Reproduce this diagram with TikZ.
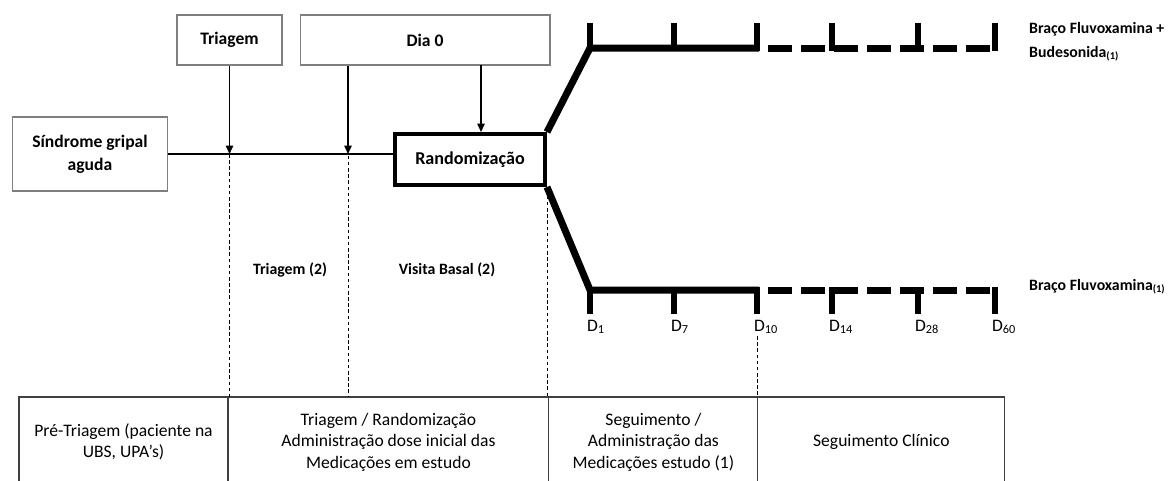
\documentclass[tikz,border=0pt]{standalone}
\usepackage{fontspec}
\setmainfont{Carlito}
\usetikzlibrary{arrows.meta, positioning, calc}

\begin{document}
\begin{tikzpicture}[
    x=0.02cm, y=-0.02cm,
    >={Triangle[length=0.17cm, width=0.15cm]},
    font=\fontsize{10}{12}\selectfont
]

\definecolor{boxgray}{HTML}{7F7F7F}
\definecolor{celledge}{HTML}{404040}

\tikzset{
    thinbox/.style={
        rectangle,
        draw=boxgray,
        line width=0.6pt,
        minimum height=1.0cm,
        align=center,
        font=\fontsize{10}{13}\selectfont\bfseries
    },
    randbox/.style={
        rectangle,
        draw=black,
        line width=0.08cm,
        minimum width=3.0cm,
        minimum height=1.02cm,
        font=\fontsize{10.3}{12}\selectfont\bfseries
    },
    arm/.style={line width=0.14cm, line join=miter},
    armdash/.style={arm, dash pattern=on 0.48cm off 0.18cm, dash phase=0.48cm},
    tickmark/.style={line width=0.13cm},
    guide/.style={dash pattern=on 2pt off 1.5pt, line width=0.5pt},
    arr/.style={->, line width=0.03cm},
    cell/.style={
        rectangle,
        draw=celledge,
        line width=0.6pt,
        minimum height=1.8cm,
        align=center,
        outer sep=0pt,
        font=\fontsize{10}{12.2}\selectfont
    },
    lbl/.style={font=\fontsize{9}{13.5}\selectfont\bfseries, align=left}
}

\useasboundingbox (0,0) rectangle (1168,480);

% Nodes
\node[thinbox, minimum width=2.1cm] (tri) at (229.5,40) {Triagem};
\node[thinbox, minimum width=5cm] (dia) at (425,40) {Dia 0};
\node[thinbox, minimum width=3.1cm, minimum height=1.48cm] (sga) at (90,154) {Síndrome gripal\\aguda};
\node[randbox] (rand) at (470,159.5) {Randomização};

% Timeline
\draw[line width=0.04cm] (sga.east) -- (sga.east -| rand.west);
\coordinate (tmark) at (tri.south |- sga.east);
\coordinate (dmark) at (348,154);
\coordinate (dright) at (481,65);
\draw[arr] (tri.south) -- (tmark);
\draw[arr] (dia.south -| dmark) -- (dmark);
\draw[arr] (dright) -- (dright |- rand.north);

% Arms
\coordinate (up0) at (590,48);
\coordinate (upend) at (759,48);
\coordinate (upfin) at (995,48);
\coordinate (lo0) at (590,290);
\coordinate (loend) at (759,290);
\coordinate (lofin) at (995,290);
\draw[arm] (rand.north east) -- (up0) -- (upend);
\draw[armdash] (upend) -- (upfin);
\draw[arm] (rand.south east) -- (lo0) -- (loend);
\draw[armdash] (loend) -- (lofin);

\foreach \x in {590,674,757,832,918,995} {
    \draw[tickmark] (\x,51) -- (\x,23);
    \draw[tickmark] (\x,287) -- (\x,314);
}
\foreach \x/\d in {590/1,674/7,757/10,832/14,918/28,995/60}
    \node[anchor=west, inner sep=1pt] (d\d) at (\x-5,327) {D\textsubscript{\d}};

\node[lbl, anchor=north west] (armA) at (1023,16) {Braço Fluvoxamina +\\Budesonida\textsubscript{(1)}};
\node[lbl, anchor=west] (armB) at (1023,287) {Braço Fluvoxamina\textsubscript{(1)}};

\node[lbl] (ph1) at (290,270) {Triagem (2)};
\node[lbl] (ph2) at (447,270) {Visita Basal (2)};

% Table
\node[cell, minimum width=4.18cm] (pre) at (123.5,442) {Pré-Triagem (paciente na\\UBS, UPA’s)};
\node[cell, minimum width=6.42cm, right=0cm of pre] (rnd) {Triagem / Randomização\\Administração dose inicial das\\Medicações em estudo};
\node[cell, minimum width=4.18cm, right=0cm of rnd] (seg) {Seguimento /\\Administração das\\Medicações estudo (1)};
\node[cell, minimum width=4.94cm, right=0cm of seg] (clin) {Seguimento Clínico};

% Guides
\draw[guide] (tmark) -- (tmark |- pre.north) ;
\draw[guide, shorten <=1pt] (dmark) -- (dmark |- pre.north);
\draw[guide, shorten <=5pt] (rand.south east) -- (rand.south east |- pre.north);
\draw[guide] (clin.north west |- d10.south) -- (clin.north west);

\end{tikzpicture}
\end{document}
